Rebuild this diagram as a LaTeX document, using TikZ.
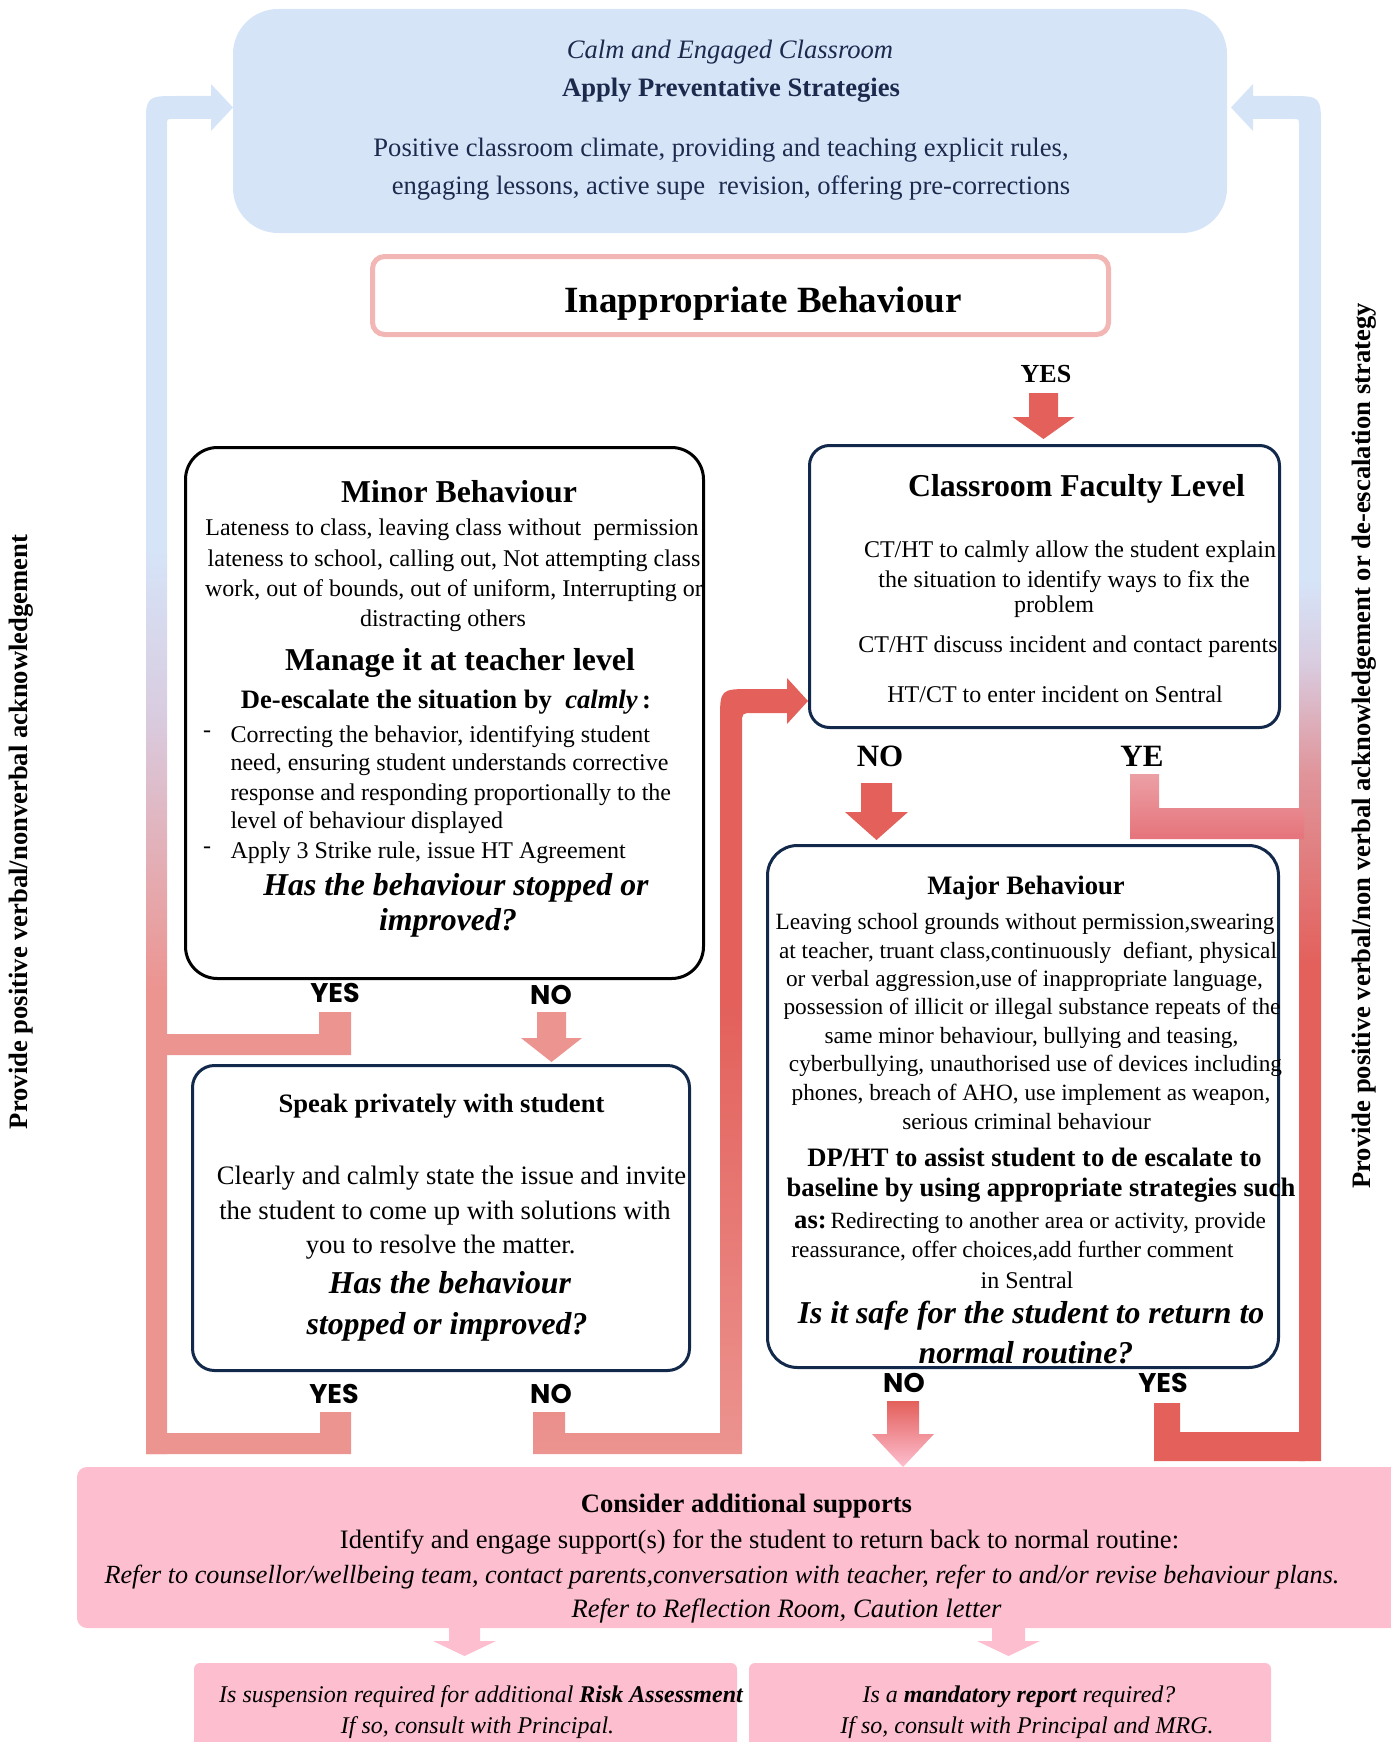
\documentclass[tikz,border=0pt]{standalone}
\usepackage{fontspec}
\setmainfont{Liberation Serif}
\newfontfamily\popfont{Poppins}
\definecolor{blueL}{HTML}{D6E4F8}
\definecolor{navyT}{HTML}{1C2B4D}
\definecolor{navyB}{HTML}{13294B}
\definecolor{pinkB}{HTML}{F2B6B5}
\definecolor{redA}{HTML}{E3605B}
\definecolor{salm}{HTML}{EC9490}
\definecolor{pinkF}{HTML}{FDBFD0}
\definecolor{lav}{HTML}{D9CCE0}
\definecolor{rmid}{HTML}{E0959B}
\definecolor{yeTop}{HTML}{EBA0A5}
\definecolor{yeBot}{HTML}{E6737B}
\pgfdeclareverticalshading{leftcol}{100bp}{color(0bp)=(salm); color(42bp)=(salm); color(52bp)=(lav); color(58bp)=(blueL); color(100bp)=(blueL)}
\pgfdeclareverticalshading{rightcol}{100bp}{color(0bp)=(redA); color(43bp)=(redA); color(50bp)=(rmid); color(54bp)=(lav); color(57bp)=(blueL); color(100bp)=(blueL)}
\pgfdeclareverticalshading{midcol}{100bp}{color(0bp)=(salm); color(25bp)=(salm); color(54bp)=(redA); color(100bp)=(redA)}
\newcommand\fsm{\fontsize{24}{28}\selectfont}
\newcommand\fmj{\fontsize{23.3}{28}\selectfont}
\newcommand\fmd{\fontsize{26.6}{31}\selectfont}
\newcommand\flg{\fontsize{31.8}{37}\selectfont}
\newcommand\fxl{\fontsize{37}{44}\selectfont}
\newcommand\flab{\popfont\bfseries\fontsize{27}{30}\selectfont}
\tikzset{
  t/.style={anchor=base, inner sep=0pt, outer sep=0pt},
  tl/.style={anchor=base west, inner sep=0pt, outer sep=0pt},
  lab/.style={anchor=base, inner sep=0pt, font=\flab},
  nbox/.style={draw=navyB, line width=3pt, fill=white, inner sep=0pt},
}
\begin{document}
\begin{tikzpicture}[x=1pt,y=-1pt]
\useasboundingbox (0,0) rectangle (1391,1742);

% ---- side columns
\shade[shading=leftcol] (146,1454) -- (146,128) .. controls (146,96) .. (178,96) -- (211,96) -- (211,84) -- (233,107.5) -- (211,131) -- (211,119) -- (173,119) .. controls (167,119) .. (167,125) -- (167,1454) -- cycle;
\shade[shading=rightcol] (1321,1461) -- (1321,128) .. controls (1321,96) .. (1289,96) -- (1253,96) -- (1253,84) -- (1231,107.5) -- (1253,131) -- (1253,119) -- (1293,119) .. controls (1299,119) .. (1299,125) -- (1299,1461) -- cycle;

% ---- middle column (Speak NO -> Classroom)
\shade[shading=midcol] (533,1412) -- (533,1454) -- (742,1454) -- (742,724) .. controls (742,713) .. (753,713) -- (787,713) -- (787,724) -- (808,701) -- (787,678) -- (787,689) -- (752,689) .. controls (720,689) .. (720,721) -- (720,1433) -- (565,1433) -- (565,1412) -- cycle;

% ---- connectors
\fill[salm] (319,1012) -- (351,1012) -- (351,1055) -- (160,1055) -- (160,1034) -- (319,1034) -- cycle;
\fill[salm] (320,1412) -- (351,1412) -- (351,1454) -- (146,1454) -- (146,1433) -- (320,1433) -- cycle;
\shade[top color=yeTop, bottom color=yeBot] (1130,774) -- (1159,774) -- (1159,808) -- (1304,808) -- (1304,839) -- (1130,839) -- cycle;
\fill[redA] (1154,1403) -- (1180,1403) -- (1180,1432) -- (1305,1432) -- (1305,1461) -- (1154,1461) -- cycle;

% ---- block arrows
\fill[redA] (1029,393) -- (1058,393) -- (1058,417) -- (1074.5,417) -- (1043.5,439) -- (1012.5,417) -- (1029,417) -- cycle;
\fill[redA] (861,783) -- (892,783) -- (892,812) -- (908,812) -- (876.5,840) -- (845,812) -- (861,812) -- cycle;
\fill[salm] (537,1012) -- (566,1012) -- (566,1038) -- (582,1038) -- (551.5,1062) -- (521,1038) -- (537,1038) -- cycle;
\shade[top color=redA, bottom color=pinkF] (887,1401) -- (919,1401) -- (919,1434) -- (934,1434) -- (903,1467) -- (872,1434) -- (887,1434) -- cycle;
\fill[pinkF] (449,1626) -- (480,1626) -- (480,1641) -- (496,1641) -- (464.5,1656) -- (433,1641) -- (449,1641) -- cycle;
\fill[pinkF] (992,1626) -- (1025,1626) -- (1025,1641) -- (1040,1641) -- (1008.5,1656) -- (977,1641) -- (992,1641) -- cycle;

% ---- boxes
\node[fill=blueL, rounded corners=45pt, minimum width=994pt, minimum height=224pt, inner sep=0pt] (top) at (730,121) {};
\node[draw=pinkB, line width=5pt, fill=white, rounded corners=12pt, minimum width=736pt, minimum height=78pt, inner sep=0pt] (inap) at (740.5,295.5) {};
\node[nbox, rounded corners=20pt, minimum width=470pt, minimum height=282pt] (cfl) at (1044.5,586.5) {};
\node[draw=black, line width=3pt, fill=white, rounded corners=32pt, minimum width=518pt, minimum height=531pt, inner sep=0pt] (minor) at (444.5,713) {};
\node[nbox, rounded corners=22pt, minimum width=497pt, minimum height=305pt] (speak) at (441,1218) {};
\node[nbox, rounded corners=30pt, minimum width=511pt, minimum height=522pt] (major) at (1023,1106.5) {};
\node[fill=pinkF, rounded corners=10pt, minimum width=1343pt, minimum height=161pt, inner sep=0pt] (cons) at (748.5,1547.5) {};
\node[fill=pinkF, rounded corners=6pt, minimum width=543pt, minimum height=97pt, inner sep=0pt] (susp) at (465.5,1711.5) {};
\node[fill=pinkF, rounded corners=6pt, minimum width=522pt, minimum height=97pt, inner sep=0pt] (mand) at (1010,1711.5) {};

% ---- top box text
\node[t, font=\fmd\itshape, text=navyT] (tb1) at (730,59) {Calm and Engaged Classroom};
\node[t, font=\fmd\bfseries, text=navyT] (tb2) at (731,97) {Apply Preventative Strategies};
\node[t, font=\fmd, text=navyT] (tb3) at (721,157) {Positive classroom climate, providing and teaching explicit rules,};
\node[t, font=\fmd, text=navyT] (tb4) at (731,194) {engaging lessons, active supe\ \ revision, offering pre-corrections};

\node[t, font=\fxl\bfseries] (ibt) at (763,312) {Inappropriate Behaviour};
\node[t, font=\fontsize{26}{30}\selectfont\bfseries] (yes0) at (1046,382) {YES};

% ---- classroom faculty
\node[t, font=\flg\bfseries] (c1) at (1076.5,496) {Classroom Faculty Level};
\node[t, font=\fsm] (c2) at (1070,557) {CT/HT to calmly allow the student explain};
\node[t, font=\fsm] (c3) at (1064,587) {the situation to identify ways to fix the};
\node[t, font=\fsm] (c4) at (1054,612) {problem};
\node[t, font=\fsm] (c5) at (1068,652) {CT/HT discuss incident and contact parents};
\node[t, font=\fsm] (c6) at (1055,702) {HT/CT to enter incident on Sentral};
\node[t, font=\fontsize{31}{34}\selectfont\bfseries] (no1) at (880,766) {NO};
\node[t, font=\fontsize{31}{34}\selectfont\bfseries] (ye1) at (1142,766) {YE};

% ---- minor behaviour
\node[t, font=\flg\bfseries] (m1) at (459,502) {Minor Behaviour};
\node[t, font=\fsm] (m2) at (452,535.5) {Lateness to class, leaving class without\ \ permission};
\node[t, font=\fsm] (m3) at (454,566) {lateness to school, calling out, Not attempting class};
\node[t, font=\fsm] (m4) at (454,596) {work, out of bounds, out of uniform, Interrupting or};
\node[t, font=\fsm] (m5) at (443,626) {distracting others};
\node[t, font=\flg\bfseries] (m6) at (460,670) {Manage it at teacher level};
\node[t, font=\fmd\bfseries] (m7) at (446,708) {De-escalate the situation by\ \ \textit{calmly}\,:};
\node[t, font=\fsm] (d1) at (207,737) {-};
\node[tl, font=\fsm] (m8) at (230.5,742.5) {Correcting the behavior, identifying student};
\node[tl, font=\fsm] (m9) at (230.5,770) {need, ensuring student understands corrective};
\node[tl, font=\fsm] (m10) at (230.5,800) {response and responding proportionally to the};
\node[tl, font=\fsm] (m11) at (230.5,828) {level of behaviour displayed};
\node[t, font=\fsm] (d2) at (207,853) {-};
\node[tl, font=\fsm] (m12) at (230.5,858) {Apply 3 Strike rule, issue HT Agreement};
\node[t, font=\flg\bfseries\itshape] (m13) at (456,895) {Has the behaviour stopped or};
\node[t, font=\flg\bfseries\itshape] (m14) at (448,930) {improved?};
\node[lab] (yes1) at (335,1002) {YES};
\node[lab] (no2) at (551,1004) {NO};

% ---- speak privately
\node[t, font=\fmd\bfseries] (s1) at (441.5,1112) {Speak privately with student};
\node[t, font=\fmd] (s2) at (451.5,1184) {Clearly and calmly state the issue and invite};
\node[t, font=\fmd] (s3) at (445,1219) {the student to come up with solutions with};
\node[t, font=\fmd] (s4) at (440.6,1253) {you to resolve the matter.};
\node[t, font=\flg\bfseries\itshape] (s5) at (450,1293) {Has the behaviour};
\node[t, font=\flg\bfseries\itshape] (s6) at (447,1334) {stopped or improved?};
\node[lab] (yes2) at (334,1403) {YES};
\node[lab] (no3) at (551,1403) {NO};

% ---- major behaviour
\node[t, font=\fmd\bfseries] (j1) at (1026,894) {Major Behaviour};
\node[t, font=\fmj] (j2) at (1025,929) {Leaving school grounds without permission,swearing};
\node[t, font=\fmj] (j3) at (1028,958) {at teacher, truant class,continuously\ \ defiant, physical};
\node[t, font=\fmj] (j4) at (1024.5,986) {or verbal aggression,use of inappropriate language,};
\node[t, font=\fmj] (j5) at (1032,1014.5) {possession of illicit or illegal substance repeats of the};
\node[t, font=\fmj] (j6) at (1031.5,1043) {same minor behaviour, bullying and teasing,};
\node[t, font=\fmj] (j7) at (1035.5,1071.6) {cyberbullying, unauthorised use of devices including};
\node[t, font=\fmj] (j8) at (1031,1100) {phones, breach of AHO, use implement as weapon,};
\node[t, font=\fmj] (j9) at (1026.5,1129) {serious criminal behaviour};
\node[t, font=\fmd\bfseries] (j10) at (1034.5,1166) {DP/HT to assist student to de escalate to};
\node[t, font=\fmd\bfseries] (j11) at (1041,1196.5) {baseline by using appropriate strategies such};
\node[t, font=\fmj] (j12) at (1030,1228) {{\fmd\bfseries as:}\,Redirecting to another area or activity, provide};
\node[t, font=\fmj] (j13) at (1012.5,1257) {reassurance, offer choices,add further comment};
\node[t, font=\fsm] (j14) at (1027,1288) {in Sentral};
\node[t, font=\flg\bfseries\itshape] (j15) at (1031,1323) {Is it safe for the student to return to};
\node[t, font=\flg\bfseries\itshape] (j16) at (1026,1363) {normal routine?};
\node[lab] (no4) at (904,1392) {NO};
\node[lab] (yes3) at (1163,1392) {YES};

% ---- consider
\node[t, font=\fmd\bfseries] (k1) at (746.5,1512) {Consider additional supports};
\node[t, font=\fmd] (k2) at (759.5,1548) {Identify and engage support(s) for the student to return back to normal routine:};
\node[t, font=\fontsize{26.2}{31}\selectfont\itshape] (k3) at (722,1583) {Refer to counsellor/wellbeing team, contact parents,conversation with teacher, refer to and/or revise behaviour plans.};
\node[t, font=\fmd\itshape] (k4) at (786.5,1617) {Refer to Reflection Room, Caution letter};

% ---- bottom boxes
\node[t, font=\fsm\itshape] (b1) at (481,1702) {Is suspension required for additional \textbf{Risk Assessment}};
\node[t, font=\fsm\itshape] (b2) at (477.5,1733) {If so, consult with Principal.};
\node[t, font=\fsm\itshape] (b3) at (1019,1702) {Is a \textbf{mandatory report} required?};
\node[t, font=\fsm\itshape] (b4) at (1027,1733) {If so, consult with Principal and MRG.};

% ---- side labels
\node[rotate=90, inner sep=0pt, font=\fmd\bfseries] (lsl) at (21,832) {Provide positive verbal/nonverbal acknowledgement};
\node[rotate=90, inner sep=0pt, font=\fmd\bfseries] (rsl) at (1364,746) {Provide positive verbal/non verbal acknowledgement or de-escalation strategy};
\end{tikzpicture}
\end{document}
